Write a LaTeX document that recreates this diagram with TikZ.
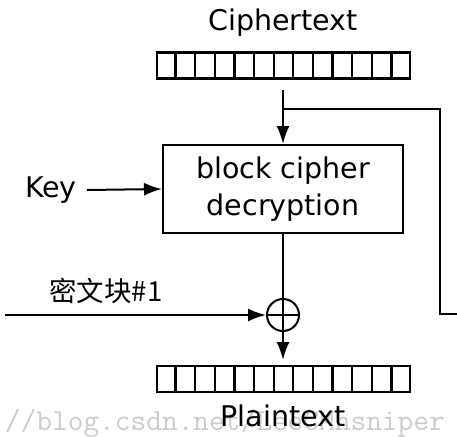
\documentclass[tikz,border=0pt]{standalone}
\usepackage{fontspec}
\setmainfont{DejaVu Sans}
\newfontfamily\cjkfont{Noto Sans CJK SC}
\usetikzlibrary{arrows.meta,calc}
\begin{document}
\begin{tikzpicture}[x=1pt,y=-1pt,
  line width=2pt,
  every node/.style={font=\fontsize{28.5}{37}\selectfont},
  flow/.style={-{Latex[length=18pt,width=13pt]}},
  bar/.style={draw, line width=2.3pt, rectangle, minimum width=253pt, minimum height=26pt, inner sep=0pt},
  cipherbox/.style={draw, rectangle, minimum width=240pt, minimum height=88pt, align=center, inner sep=0pt},
  xorop/.style={draw, circle, minimum size=32pt, inner sep=0pt}]
  \useasboundingbox (0,0) rectangle (457,436);

  % faint address line along the bottom edge
  \node[anchor=base west, text=black!20, font=\ttfamily\fontsize{30.5}{32}\selectfont, inner sep=0pt]
    (addr) at (4,430) {//blog.csdn.net/LeeCMhsniper};

  % labels
  \node (ctext) at (283,23) {Ciphertext};
  \node (ptext) at (283,416) {Plaintext};
  \node (key) at (51,190) {Key};
  \node[font=\cjkfont\fontsize{27.5}{30}\selectfont] (iv) at (106,291) {密文块\#1};

  % ciphertext and plaintext blocks of 13 cells
  \node[bar] (cbar) at (283.5,65.5) {};
  \node[bar] (pbar) at (283.5,379) {};
  \foreach \b in {cbar,pbar}{
    \foreach \i in {1,...,12}{
      \draw[line width=2.3pt] ($(\b.north west)!\i/13!(\b.north east)$) -- ($(\b.south west)!\i/13!(\b.south east)$);
    }
  }

  % decryption stage
  \node[cipherbox] (dec) at (283,189) {block cipher\\decryption};
  \node[xorop] (xor) at (283,315) {};
  \draw (xor.north) -- (xor.south) (xor.west) -- (xor.east);

  \coordinate (ctap) at (283,90);
  \coordinate (fork) at (283,109);
  \coordinate (fbcorner) at (440,109);
  \coordinate (fbdown) at (440,314);
  \coordinate (fbout) at (458,314);
  \coordinate (ivin) at (5,315);
  \coordinate (pin) at (283,360);
  \coordinate (keyout) at (87,190);

  % connectors
  \draw[flow] (ctap) -- (dec.north);
  \draw (fork) -- (fbcorner) -- (fbdown) -- (fbout);
  \draw[flow] (keyout) -- (dec.west);
  \draw (dec.south) -- (xor.north);
  \draw[flow] (ivin) -- (xor.west);
  \draw[flow] (xor.south) -- (pin);
\end{tikzpicture}
\end{document}
